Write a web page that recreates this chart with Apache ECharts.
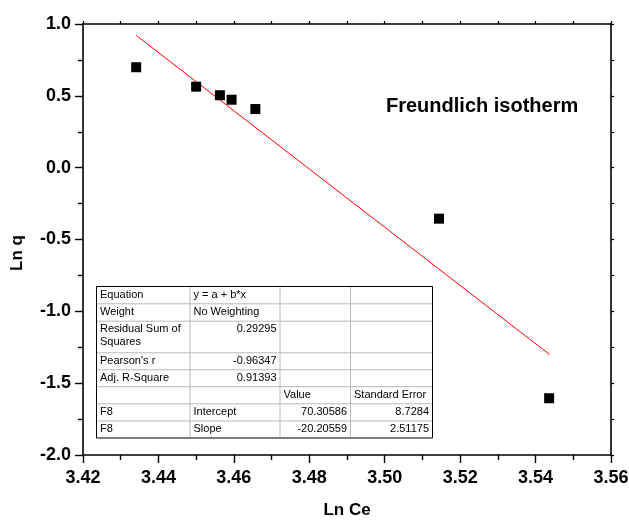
<!DOCTYPE html>
<html>
<head>
<meta charset="utf-8">
<script src="https://cdn.jsdelivr.net/npm/echarts@6/dist/echarts.min.js"></script>
<style>html,body{margin:0;padding:0;background:#fff}#c{width:629px;height:520px}</style>
</head>
<body>
<div id="c"></div>
<script>
// ---- data ----
const lnCe = [3.4341, 3.4500, 3.4563, 3.4594, 3.4657, 3.5144, 3.5436];
const lnQ  = [0.699, 0.564, 0.504, 0.473, 0.408, -0.355, -1.605];
const fitX = [3.4341, 3.5437];
const fitY = [0.921, -1.300];
const xTicks = { min: 3.42, max: 3.56, step: 0.02 };
const yTicks = { min: -2.0, max: 1.0, step: 0.5 };
const xName = 'Ln Ce';
const yName = 'Ln q';
const annotation = 'Freundlich isotherm';
const tableRows = [
  ['Equation', 'y = a + b*x', '', ''],
  ['Weight', 'No Weighting', '', ''],
  ['Residual Sum of\nSquares', '0.29295', '', ''],
  ["Pearson's r", '-0.96347', '', ''],
  ['Adj. R-Square', '0.91393', '', ''],
  ['', '', 'Value', 'Standard Error'],
  ['F8', 'Intercept', '70.30586', '8.7284'],
  ['F8', 'Slope', '-20.20559', '2.51175']
];

// ---- layout (styles) ----
const FONT = '"Liberation Sans", Arial, sans-serif';
const colX = [96, 189.5, 279.5, 350, 432];
const rowY = [286, 303.3, 320.7, 352.3, 369.3, 386.2, 403.3, 420.5, 437.5];

const graphics = [];
graphics.push({ type: 'text', left: 386, top: 96, style: { text: annotation, font: 'bold 20px ' + FONT, fill: '#000' } });
graphics.push({ type: 'text', x: 17, y: 253, rotation: Math.PI / 2, style: { text: yName, font: 'bold 17px ' + FONT, fill: '#000', align: 'center', verticalAlign: 'middle' } });

// table background
graphics.push({ type: 'rect', shape: { x: colX[0], y: rowY[0], width: colX[4] - colX[0], height: rowY[8] - rowY[0] }, style: { fill: '#fff', stroke: null }, z: 50 });
for (let i = 1; i < rowY.length - 1; i++) {
  graphics.push({ type: 'line', shape: { x1: colX[0], y1: rowY[i] + 0.5, x2: colX[4], y2: rowY[i] + 0.5 }, style: { stroke: '#b8b8b8', lineWidth: 1 }, z: 51 });
}
for (let j = 1; j < colX.length - 1; j++) {
  graphics.push({ type: 'line', shape: { x1: colX[j] + 0.5, y1: rowY[0], x2: colX[j] + 0.5, y2: rowY[8] }, style: { stroke: '#b8b8b8', lineWidth: 1 }, z: 51 });
}
graphics.push({ type: 'rect', shape: { x: colX[0] + 0.5, y: rowY[0] + 0.5, width: colX[4] - colX[0], height: rowY[8] - rowY[0] }, style: { fill: null, stroke: '#000', lineWidth: 1 }, z: 52 });
const isNum = s => /^-?[0-9.]+$/.test(s);
tableRows.forEach((row, r) => {
  row.forEach((cell, c) => {
    if (!cell) return;
    const right = isNum(cell);
    graphics.push({
      type: 'text', z: 53,
      x: right ? colX[c + 1] - 3 : colX[c] + 4,
      y: rowY[r] + 2.5,
      style: { text: cell, font: '11px ' + FONT, fill: '#000', align: right ? 'right' : 'left', verticalAlign: 'top', lineHeight: 12.5 }
    });
  });
});

const chart = echarts.init(document.getElementById('c'));
const axisLine = { show: true, onZero: false, lineStyle: { color: '#000', width: 1.6 } };
chart.setOption({
  animation: false,
  backgroundColor: '#fff',
  grid: { left: 83, right: 18, top: 24, bottom: 65, containLabel: false, outerBoundsMode: 'none' },
  xAxis: [{
    type: 'value', min: xTicks.min, max: xTicks.max, interval: xTicks.step,
    name: xName, nameLocation: 'middle', nameGap: 47,
    nameTextStyle: { fontFamily: FONT, fontWeight: 'bold', fontSize: 17, color: '#000' },
    axisLine: axisLine,
    axisTick: { show: true, inside: false, length: 8, lineStyle: { color: '#000', width: 1.4 } },
    minorTick: { show: true, splitNumber: 2, length: 5, lineStyle: { color: '#000', width: 1.4 } },
    axisLabel: { margin: 14, fontFamily: FONT, fontWeight: 'bold', fontSize: 18, color: '#000', formatter: v => v.toFixed(2) },
    splitLine: { show: false }
  }, {
    type: 'value', position: 'top', min: xTicks.min, max: xTicks.max, interval: xTicks.step / 2,
    axisLine: axisLine,
    axisTick: { show: true, length: 3, lineStyle: { color: '#000', width: 1.2 } },
    axisLabel: { show: false }, splitLine: { show: false }
  }],
  yAxis: [{
    type: 'value', min: yTicks.min, max: yTicks.max, interval: yTicks.step,
    axisLine: axisLine,
    axisTick: { show: true, inside: false, length: 8, lineStyle: { color: '#000', width: 1.4 } },
    minorTick: { show: true, splitNumber: 2, length: 5, lineStyle: { color: '#000', width: 1.4 } },
    axisLabel: { margin: 12, fontFamily: FONT, fontWeight: 'bold', fontSize: 18, color: '#000', formatter: v => v.toFixed(1) },
    splitLine: { show: false }
  }, {
    type: 'value', position: 'right', min: yTicks.min, max: yTicks.max, interval: yTicks.step / 2,
    axisLine: axisLine,
    axisTick: { show: true, length: 3, lineStyle: { color: '#000', width: 1.2 } },
    axisLabel: { show: false }, splitLine: { show: false }
  }],
  series: [{
    type: 'line', xAxisIndex: 0, yAxisIndex: 0,
    data: fitX.map((x, i) => [x, fitY[i]]),
    showSymbol: false, symbol: 'none',
    lineStyle: { color: '#ff0000', width: 1 }, z: 2
  }, {
    type: 'scatter', xAxisIndex: 0, yAxisIndex: 0,
    data: lnCe.map((x, i) => [x, lnQ[i]]),
    symbol: 'rect', symbolSize: 10,
    itemStyle: { color: '#000', opacity: 1 }, z: 3
  }],
  graphic: graphics
});
</script>
</body>
</html>
